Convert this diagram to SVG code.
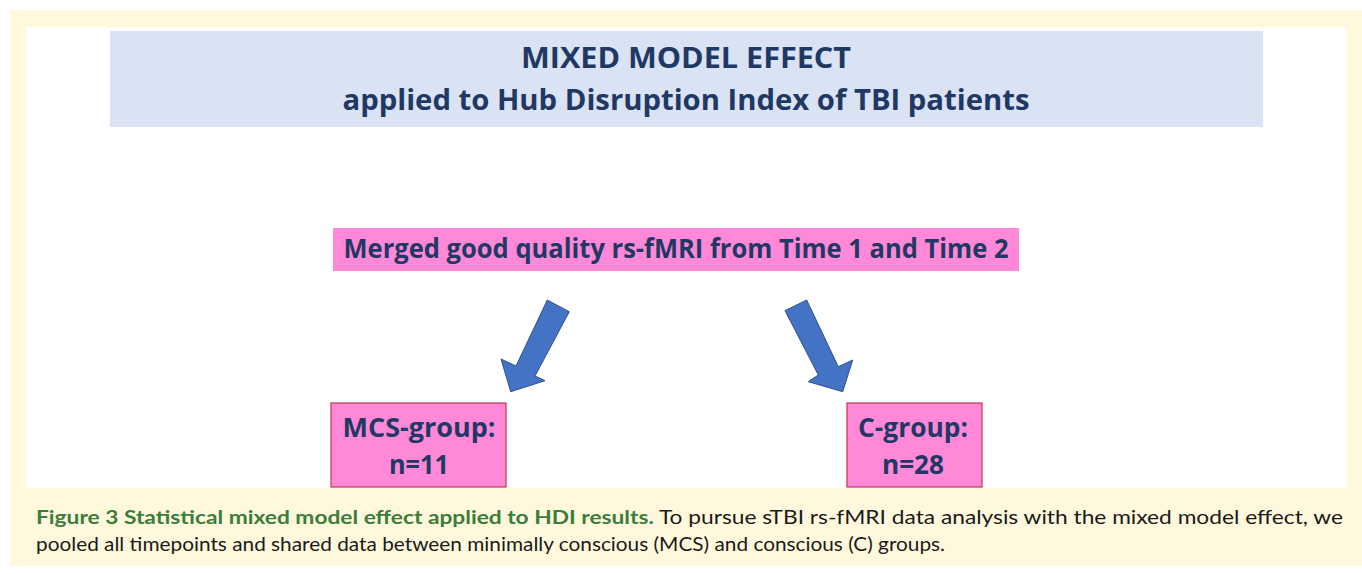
<svg xmlns="http://www.w3.org/2000/svg" width="1362" height="574" viewBox="0 0 1362 574">
<style>
.title{font-family:"Open Sans","Liberation Sans",sans-serif;font-weight:bold;fill:#1f3864;text-anchor:middle}
.box{fill:#ff88d8}
.grp{fill:#ff88d8;stroke:#c0394b;stroke-width:1.2}
.arrow{fill:#4472c4;stroke:#2f528f;stroke-width:1}
.cap{font-family:Lato,"Liberation Sans",sans-serif;font-size:19px;fill:#1a1a1a}
.capb{font-weight:bold;fill:#3b7d3b}
</style>
<rect x="0" y="0" width="1362" height="574" fill="#ffffff"/>
<rect x="10" y="10" width="1352" height="556" fill="#fff8dc"/>
<rect x="26" y="27" width="1320" height="461" fill="#ffffff"/>
<g id="title">
<rect x="110" y="31" width="1153" height="96" fill="#dae3f3"/>
<text class="title" x="686" y="68" font-size="28" textLength="330" lengthAdjust="spacingAndGlyphs">MIXED MODEL EFFECT</text>
<text class="title" x="686" y="110" font-size="28" textLength="687" lengthAdjust="spacingAndGlyphs">applied to Hub Disruption Index of TBI patients</text>
</g>
<g id="merged">
<rect class="box" x="333" y="228" width="686" height="43"/>
<text class="title" x="676" y="258" font-size="26" textLength="665" lengthAdjust="spacingAndGlyphs">Merged good quality rs-fMRI from Time 1 and Time 2</text>
</g>
<g id="mcs">
<rect class="grp" x="331" y="403" width="175" height="84"/>
<text class="title" x="419" y="437" font-size="26" textLength="153" lengthAdjust="spacingAndGlyphs">MCS-group:</text>
<text class="title" x="419" y="474" font-size="26" textLength="60" lengthAdjust="spacingAndGlyphs">n=11</text>
</g>
<g id="cgroup">
<rect class="grp" x="847" y="403" width="135" height="84"/>
<text class="title" x="913" y="437" font-size="26" textLength="110" lengthAdjust="spacingAndGlyphs">C-group:</text>
<text class="title" x="913" y="474" font-size="26" textLength="62" lengthAdjust="spacingAndGlyphs">n=28</text>
</g>
<g id="connectors">
<polygon class="arrow" points="547.3,300 569.3,311.7 535,376 545,380.7 510.7,391.7 501,359 516,366"/>
<polygon class="arrow" points="806.7,300 785,310.7 818.3,375 808.3,381.7 842.7,391.7 852.7,360 838.3,366.7"/>
</g>
<g id="caption">
<text class="cap" x="36" y="524" textLength="1307" lengthAdjust="spacingAndGlyphs"><tspan class="capb">Figure 3 Statistical mixed model effect applied to HDI results.</tspan> To pursue sTBI rs-fMRI data analysis with the mixed model effect, we</text>
<text class="cap" x="36" y="551" textLength="909" lengthAdjust="spacingAndGlyphs">pooled all timepoints and shared data between minimally conscious (MCS) and conscious (C) groups.</text>
</g>
</svg>
